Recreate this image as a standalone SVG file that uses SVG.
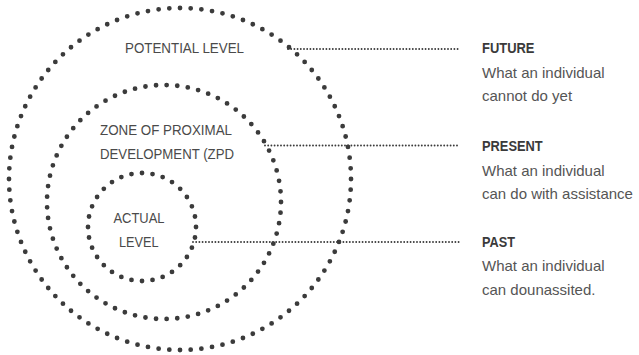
<svg xmlns="http://www.w3.org/2000/svg" width="639" height="355" viewBox="0 0 639 355">
  <style>
    .ring { fill: none; stroke: #3b3b3b; stroke-width: 4.8; stroke-linecap: round; stroke-dasharray: 0 1; }
    .link { fill: none; stroke: #3b3b3b; stroke-width: 1.9; stroke-linecap: round; stroke-dasharray: 0 3.2; }
    .zone { font-family: "Liberation Sans", Arial, sans-serif; font-size: 15.5px; fill: #4a4a4a; }
    .head { font-family: "Liberation Sans", Arial, sans-serif; font-size: 14.5px; font-weight: bold; fill: #3a3a3a; }
    .desc { font-family: "Liberation Sans", Arial, sans-serif; font-size: 15px; fill: #555555; }
  </style>
  <rect width="639" height="355" fill="#ffffff"/>

  <!-- connectors from each ring to its description -->
  <g id="connectors">
    <line class="link" x1="288" y1="49" x2="460" y2="49"/>
    <line class="link" x1="265" y1="145.5" x2="458" y2="145.5"/>
    <line class="link" x1="193" y1="242" x2="460" y2="242"/>
  </g>

  <!-- outer ring: potential level -->
  <g id="potential-level">
    <circle class="ring" cx="180" cy="179" r="171" pathLength="100"/>
    <text class="zone" x="125" y="53" textLength="119" lengthAdjust="spacingAndGlyphs">POTENTIAL LEVEL</text>
  </g>

  <!-- middle ring: zone of proximal development -->
  <g id="zpd">
    <circle class="ring" cx="164" cy="202" r="117" pathLength="69"/>
    <text class="zone" x="100" y="135" textLength="132" lengthAdjust="spacingAndGlyphs">ZONE OF PROXIMAL</text>
    <text class="zone" x="100" y="158.5" textLength="134" lengthAdjust="spacingAndGlyphs">DEVELOPMENT (ZPD</text>
  </g>

  <!-- inner ring: actual level -->
  <g id="actual-level">
    <circle class="ring" cx="142" cy="227" r="54" pathLength="32"/>
    <text class="zone" x="113.5" y="222.7" textLength="51" lengthAdjust="spacingAndGlyphs">ACTUAL</text>
    <text class="zone" x="119" y="246.7" textLength="39.5" lengthAdjust="spacingAndGlyphs">LEVEL</text>
  </g>

  <!-- descriptions -->
  <g id="future">
    <text class="head" x="482" y="52.7" textLength="52.5" lengthAdjust="spacingAndGlyphs">FUTURE</text>
    <text class="desc" x="482" y="77.7">What an individual</text>
    <text class="desc" x="482" y="101">cannot do yet</text>
  </g>
  <g id="present">
    <text class="head" x="482" y="150.7" textLength="60.7" lengthAdjust="spacingAndGlyphs">PRESENT</text>
    <text class="desc" x="482" y="175.7">What an individual</text>
    <text class="desc" x="482" y="199.3">can do with assistance</text>
  </g>
  <g id="past">
    <text class="head" x="482" y="246.7" textLength="33" lengthAdjust="spacingAndGlyphs">PAST</text>
    <text class="desc" x="482" y="271">What an individual</text>
    <text class="desc" x="482" y="295">can dounassited.</text>
  </g>
</svg>
